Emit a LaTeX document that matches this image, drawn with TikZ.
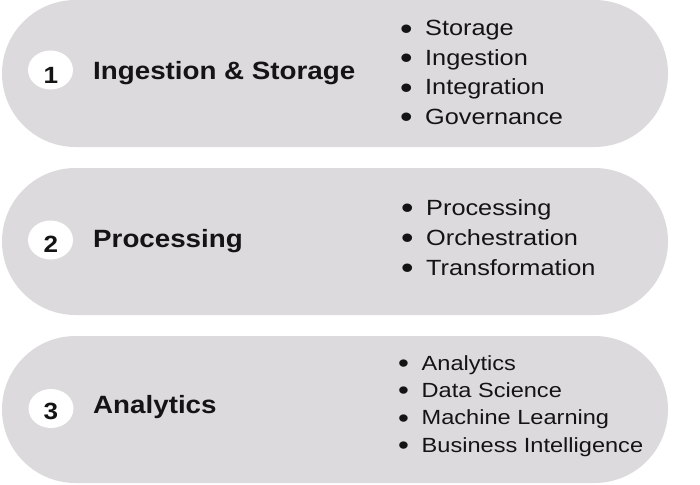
\documentclass[tikz,border=0pt]{standalone}
\usepackage{fontspec}
\setmainfont{Liberation Sans}
\newfontfamily\titlefont[FakeStretch=1.11]{Liberation Sans}
\newfontfamily\listfont[FakeStretch=1.15]{Liberation Sans}
\usetikzlibrary{shapes.misc,shapes.geometric}
\definecolor{pillgray}{RGB}{220,218,221}
\definecolor{ink}{RGB}{20,20,20}
\newcommand\blt[3]{\makebox[#1][l]{\smash{\raisebox{#3}{\fontsize{#2}{#2}\selectfont •}}}}
\begin{document}
\begin{tikzpicture}[x=1pt,y=-1pt,
  pill/.style={rounded rectangle, fill=pillgray, minimum width=666pt, minimum height=147pt, inner sep=0pt},
  badge/.style={ellipse, fill=white, minimum width=45pt, minimum height=39pt, inner sep=0pt},
  digit/.style={anchor=base, inner sep=0pt, text=ink, font=\titlefont\bfseries\fontsize{23.5}{26}\selectfont},
  title/.style={anchor=base west, inner sep=0pt, text=ink, font=\titlefont\bfseries\fontsize{25}{30}\selectfont},
  itemA/.style={anchor=base west, inner sep=0pt, text=ink, font=\listfont\fontsize{22}{26}\selectfont},
  itemB/.style={anchor=base west, inner sep=0pt, text=ink, font=\listfont\fontsize{20.5}{24}\selectfont}
]
\useasboundingbox (0,0) rectangle (700,484);

% pills
\node[pill] (p1) at (335,73.5) {};
\node[pill] (p2) at (335,241.5) {};
\node[pill] (p3) at (335,409.5) {};

% badges
\node[badge] (b1) at (50.5,70) {};
\node[badge] (b2) at (50.5,240) {};
\node[badge] (b3) at (51,408.5) {};
\node[digit] (d1) at (51,84) {1};
\node[digit] (d2) at (51,252.5) {2};
\node[digit] (d3) at (51,419.5) {3};

% titles
\node[title] (t1) at (93,80) {Ingestion \& Storage};
\node[title] (t2) at (93,247) {Processing};
\node[title] (t3) at (93,413) {Analytics};

% list 1
\node[itemA] (l11) at (400,36) {\blt{25pt}{31}{-3.4pt}Storage};
\node[itemA] (l12) at (400,65.5) {\blt{25pt}{31}{-3.4pt}Ingestion};
\node[itemA] (l13) at (400,95) {\blt{25pt}{31}{-3.4pt}Integration};
\node[itemA] (l14) at (400,124.5) {\blt{25pt}{31}{-3.4pt}Governance};

% list 2
\node[itemA] (l21) at (401,215) {\blt{25pt}{31}{-3.4pt}Processing};
\node[itemA] (l22) at (401,245) {\blt{25pt}{31}{-3.4pt}Orchestration};
\node[itemA] (l23) at (401,275) {\blt{25pt}{31}{-3.4pt}Transformation};

% list 3
\node[itemB] (l31) at (398,370) {\blt{23.5pt}{27}{-2.6pt}Analytics};
\node[itemB] (l32) at (398,397.3) {\blt{23.5pt}{27}{-2.6pt}Data Science};
\node[itemB] (l33) at (398,424.6) {\blt{23.5pt}{27}{-2.6pt}Machine Learning};
\node[itemB] (l34) at (398,452) {\blt{23.5pt}{27}{-2.6pt}Business Intelligence};
\end{tikzpicture}
\end{document}
